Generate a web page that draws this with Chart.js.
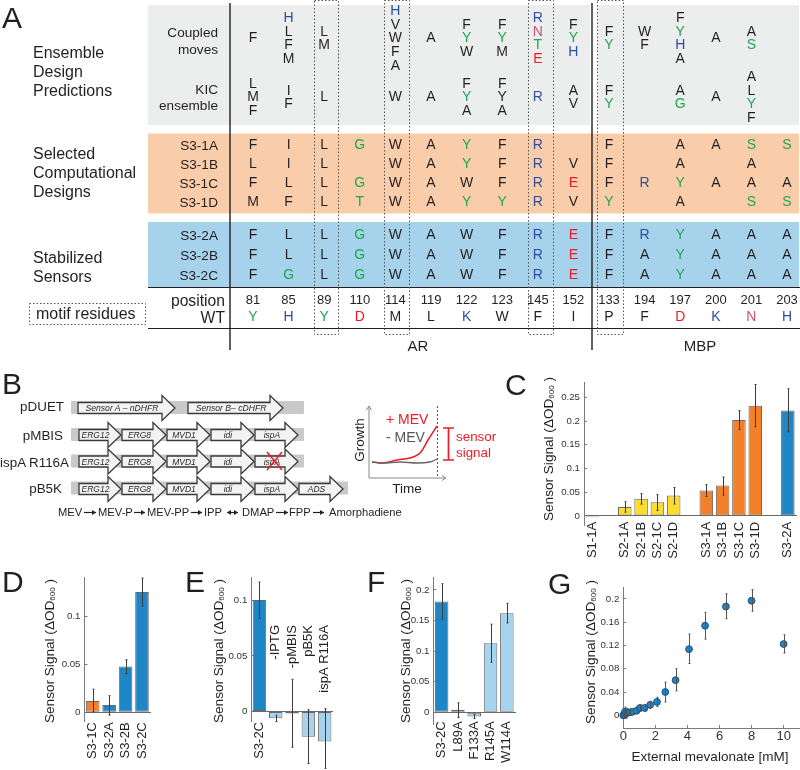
<!DOCTYPE html>
<html>
<head>
<meta charset="utf-8">
<title>Sensor design panels</title>
<script src="https://cdn.jsdelivr.net/npm/chart.js@4"></script>
<style>
  html, body { margin: 0; background: #fff; }
  body { position: relative; width: 800px; height: 770px; overflow: hidden; }
  canvas { position: absolute; }
  svg { position: absolute; left: 0; top: 0; z-index: 2; pointer-events: none; }
  svg text { font-family: 'Liberation Sans', Arial, sans-serif; fill: #231f20; dominant-baseline: central; }
  #growth { z-index: 3; }
</style>
</head>
<body>
<svg id="overlay" width="800" height="770"></svg>
<canvas id="panelA"></canvas>
<canvas id="growth"></canvas>
<canvas id="panelC"></canvas>
<canvas id="panelD"></canvas>
<canvas id="panelE"></canvas>
<canvas id="panelF"></canvas>
<canvas id="panelG"></canvas>
<script>
// panel A residues, one entry per column. '' = blank, lowercase y = drawn black
const positions = ['81', '85', '89', '110', '114', '119', '122', '123', '145', '152', '133', '194', '197', '200', '201', '203'];
const wildType = ['Y', 'H', 'Y', 'D', 'M', 'L', 'K', 'W', 'F', 'I', 'P', 'F', 'D', 'K', 'N', 'H'];
const coupledMoves = ['F', 'HLFM', 'LM', '', 'HVWFA', 'A', 'FYW', 'FYM', 'RNTE', 'FYH', 'FY', 'WF', 'FYHA', 'A', 'AS', ''];
const kicEnsemble = ['LMF', 'IF', 'L', '', 'W', 'A', 'FYA', 'FyA', 'R', 'AV', 'FY', '', 'AG', 'A', 'ALYF', ''];
const s31a = ['F', 'I', 'L', 'G', 'W', 'A', 'Y', 'F', 'R', '', 'F', '', 'A', 'A', 'S', 'S'];
const s31b = ['L', 'I', 'L', '', 'W', 'A', 'Y', 'F', 'R', 'V', 'F', '', 'A', '', 'A', ''];
const s31c = ['F', 'L', 'L', 'G', 'W', 'A', 'W', 'F', 'R', 'E', 'F', 'R', 'Y', 'A', 'A', 'A'];
const s31d = ['M', 'F', 'L', 'T', 'W', 'A', 'Y', 'Y', 'R', 'V', 'Y', '', 'A', '', 'S', 'S'];
const s32a = ['F', 'L', 'L', 'G', 'W', 'A', 'W', 'F', 'R', 'E', 'F', 'R', 'Y', 'A', 'A', 'A'];
const s32b = ['F', 'L', 'L', 'G', 'W', 'A', 'W', 'F', 'R', 'E', 'F', 'A', 'Y', 'A', 'A', 'A'];
const s32c = ['F', 'G', 'L', 'G', 'W', 'A', 'W', 'F', 'R', 'E', 'F', 'A', 'Y', 'A', 'A', 'A'];

// panel B growth sketch
const plusTime = [3, 14, 28, 41, 51, 59, 68];
const plusGrowth = [16, 15, 18, 20, 25, 38, 52];
const minusTime = [3, 14, 31, 48, 61, 68];
const minusGrowth = [16, 15, 16, 15, 16, 19];

// panel C
const cLabels = ['S1-1A', '', 'S2-1A', 'S2-1B', 'S2-1C', 'S2-1D', '', 'S3-1A', 'S3-1B', 'S3-1C', 'S3-1D', '', 'S3-2A'];
const cValues = [-0.003, null, 0.019, 0.036, 0.029, 0.043, null, 0.0535, 0.064, 0.202, 0.232, null, 0.222];
const cHigh = [null, null, 0.0298, 0.047, 0.045, 0.06, null, 0.066, 0.082, 0.222, 0.277, null, 0.268];
const cLow = [null, null, 0.008, 0.025, 0.0115, 0.025, null, 0.041, 0.044, 0.182, 0.188, null, 0.177];
const cTicks = [0, 0.05, 0.1, 0.15, 0.2, 0.25];

// panel D
const dLabels = ['S3-1C', 'S3-2A', 'S3-2B', 'S3-2C'];
const dValues = [0.0119, 0.0075, 0.048, 0.126];
const dHigh = [0.0241, 0.0173, 0.055, 0.1405];
const dLow = [0.0003, -0.003, 0.0405, 0.111];
const dTicks = [0, 0.05, 0.1];

// panel E
const eLabels = ['S3-2C', '-IPTG', '-pMBIS', 'pB5K', 'ispA R116A'];
const eValues = [0.1003, -0.006, -0.0017, -0.0226, -0.027];
const eHigh = [0.1165, -0.0032, 0.029, 0.0017, 0.0026];
const eLow = [0.084, -0.009, -0.032, -0.0467, -0.051];
const eTicks = [0, 0.05, 0.1];

// panel F
const fLabels = ['S3-2C', 'L89A', 'F133A', 'R145A', 'W114A'];
const fValues = [0.181, 0.0042, -0.0069, 0.113, 0.162];
const fHigh = [0.21, 0.0154, -0.003, 0.144, 0.178];
const fLow = [0.152, -0.0085, -0.01, 0.0817, 0.146];
const fTicks = [0, 0.05, 0.1, 0.15, 0.2];

// panel G
const gDose = [0, 0.04, 0.1, 0.15, 0.25, 0.42, 0.58, 0.83, 1.04, 1.33, 1.68, 2.1, 2.62, 3.26, 4.1, 5.1, 6.4, 8, 10];
const gSignal = [0, 0, 0.006, 0.002, 0.0055, 0.005, 0.006, 0.0077, 0.0126, 0.0126, 0.018, 0.023, 0.04, 0.0604, 0.1137, 0.154, 0.187, 0.197, 0.1225];
const gHigh = [0.002, 0.002, 0.014, 0.01, 0.009, 0.008, 0.0105, 0.012, 0.0176, 0.0187, 0.024, 0.031, 0.057, 0.08, 0.1396, 0.177, 0.209, 0.216, 0.1385];
const gLow = [-0.002, -0.002, -0.003, -0.005, 0.002, 0.002, 0.0016, 0.0038, 0.0066, 0.0066, 0.0115, 0.015, 0.023, 0.042, 0.089, 0.131, 0.166, 0.179, 0.107];
const gXTicks = [0, 2, 4, 6, 8, 10];
const gYTicks = [0, 0.04, 0.08, 0.12, 0.16, 0.2];

const GREEN = '#1fa650';
const BLUE = '#2f4da0';
const RED = '#ed1c24';
const PINK = '#c9527f';
const INK = '#231f20';
const BAR_BLUE = '#1f86c6';
const BAR_LIGHT = '#a6d3ee';
const BAR_ORANGE = '#f4812a';
const BAR_YELLOW = '#fcdc2c';
const letterColors = { Y: GREEN, G: GREEN, T: GREEN, S: GREEN, H: BLUE, R: BLUE, K: BLUE, D: RED, E: RED, N: PINK };

Chart.defaults.font.family = "'Liberation Sans', Arial, sans-serif";
Chart.defaults.animation = false;
Chart.defaults.plugins.legend.display = false;
Chart.defaults.plugins.tooltip.enabled = false;

// ---- static text and panel B diagram, in one svg ----
const svg = document.getElementById('overlay');
let svgMarkup = '';

function text(str, x, y, size, opts = {}) {
  const anchor = opts.anchor || 'start';
  const fill = opts.fill ? `style="fill:${opts.fill}"` : '';
  const rot = opts.rot ? `transform="rotate(-90 ${x} ${y})"` : '';
  const italic = opts.italic ? 'font-style="italic"' : '';
  svgMarkup += `<text x="${x}" y="${y}" font-size="${size}" text-anchor="${anchor}" ${fill} ${rot} ${italic}>${str}</text>`;
}

function signalTitle(x, y) {
  const label = 'Sensor Signal (ΔOD<tspan dy="3" font-size="8">600</tspan><tspan dy="-3"> )</tspan>';
  text(label, x, y, 13.6, { anchor: 'middle', rot: true });
}

[['A', 2, 17], ['B', 2, 383], ['C', 505, 384], ['D', 2, 581], ['E', 185, 581], ['F', 367, 581], ['G', 548, 583]]
  .forEach(([t, x, y]) => text(t, x, y, 30));

[['Ensemble', 52], ['Design', 71], ['Predictions', 90], ['Selected', 153], ['Computational', 172], ['Designs', 191], ['Stabilized', 257], ['Sensors', 276]]
  .forEach(([t, y]) => text(t, 33, y, 16));
text('motif residues', 36, 313, 16);
[['Coupled', 32], ['moves', 49], ['KIC', 89], ['ensemble', 105], ['S3-1A', 145], ['S3-1B', 164], ['S3-1C', 183], ['S3-1D', 202], ['S3-2A', 235], ['S3-2B', 255], ['S3-2C', 275]]
  .forEach(([t, y]) => text(t, 218, y, 13.6, { anchor: 'end' }));
text('position', 225, 300, 15.7, { anchor: 'end' });
text('WT', 225, 317, 15.7, { anchor: 'end' });
text('AR', 418, 345, 15, { anchor: 'middle' });
text('MBP', 700, 345, 15, { anchor: 'middle' });

signalTitle(548, 449);
signalTitle(49, 651);
signalTitle(218, 651);
signalTitle(405, 651);
signalTitle(590, 652);
text('External mevalonate [mM]', 710, 756, 13.5, { anchor: 'middle' });

function geneArrow(x1, x2, cy, label, size, head = 13, bodyH = 11, headH = 25) {
  const hx = x2 - head;
  const pts = [[x1, cy - bodyH / 2], [hx, cy - bodyH / 2], [hx, cy - headH / 2], [x2, cy], [hx, cy + headH / 2], [hx, cy + bodyH / 2], [x1, cy + bodyH / 2]];
  svgMarkup += `<polygon points="${pts.map((p) => p.join(',')).join(' ')}" fill="#f3f3f3" stroke="#3a3a3a" stroke-width="1.3"/>`;
  text(label, (x1 + hx) / 2 + 2, cy, size, { anchor: 'middle', italic: true });
}

function plasmidBar(x1, x2, cy) {
  svgMarkup += `<rect x="${x1}" y="${cy - 6.5}" width="${x2 - x1}" height="13" rx="1" fill="#c9c9c9"/>`;
}

function smallArrow(x1, x2, y, both) {
  svgMarkup += `<line x1="${x1}" x2="${x2}" y1="${y}" y2="${y}" stroke="#222" stroke-width="1.2"/>`;
  svgMarkup += `<polygon points="${x2},${y} ${x2 - 4},${y - 2.5} ${x2 - 4},${y + 2.5}" fill="#222"/>`;
  if (both) {
    svgMarkup += `<polygon points="${x1},${y} ${x1 + 4},${y - 2.5} ${x1 + 4},${y + 2.5}" fill="#222"/>`;
  }
}

plasmidBar(71, 304, 407.5);
plasmidBar(71, 304, 434.5);
plasmidBar(71, 304, 461);
plasmidBar(71, 348, 488);
geneArrow(78, 175, 408, 'Sensor A – nDHFR', 8.6);
geneArrow(188, 283, 408, 'Sensor B– cDHFR', 8.6);

[435, 461.5, 489].forEach((cy) => {
  geneArrow(79, 121, cy, 'ERG12', 8.5);
  geneArrow(122, 166, cy, 'ERG8', 8.5);
  geneArrow(167, 210, cy, 'MVD1', 8.5);
  geneArrow(211, 254, cy, 'idi', 8.5);
  geneArrow(255, 298, cy, 'ispA', 8.5);
});
geneArrow(299, 343, 489, 'ADS', 8.5);
svgMarkup += `<path d="M267 452 L282 470 M282 452 L267 470" stroke="${RED}" stroke-width="1.5" fill="none"/>`;

[['pDUET', 64, 406], ['pMBIS', 63, 435], ['ispA R116A', 69, 462], ['pB5K', 62, 488]]
  .forEach(([t, x, y]) => text(t, x, y, 13.4, { anchor: 'end' }));

[['MEV', 58], ['MEV-P', 98], ['MEV-PP', 147], ['IPP', 204], ['DMAP', 242], ['FPP', 289], ['Amorphadiene', 329]]
  .forEach(([t, x]) => text(t, x, 512, 11.2));
smallArrow(84, 96, 512.5);
smallArrow(134, 145, 512.5);
smallArrow(191, 202, 512.5);
smallArrow(227, 238, 512.5, true);
smallArrow(276, 288, 512.5);
smallArrow(313, 324, 512.5);

// growth sketch axes
svgMarkup += '<path d="M369 478 L369 406 M366.5 410 L369 406 L371.5 410 M369 478 L446 478 M442 475.5 L446 478 L442 480.5" stroke="#888" stroke-width="1" fill="none"/>';
svgMarkup += '<line x1="437.5" x2="437.5" y1="406" y2="478" stroke="#555" stroke-width="1" stroke-dasharray="2 2"/>';
svgMarkup += `<path d="M443 428 L454 428 M448.5 428 L448.5 460 M443 460 L454 460" stroke="${RED}" stroke-width="1.7" fill="none"/>`;
text('Growth', 359, 440, 13.5, { anchor: 'middle', rot: true });
text('Time', 407, 488, 13.5, { anchor: 'middle' });
text('+ MEV', 386, 419, 14, { fill: RED });
text('-  MEV', 386, 437, 14, { fill: '#555' });
text('sensor', 456, 436, 13.4, { fill: RED });
text('signal', 456, 452, 13.4, { fill: RED });
svg.innerHTML = svgMarkup;

// ---- helpers for the charts ----
function place(id, box) {
  const c = document.getElementById(id);
  c.width = box[2];
  c.height = box[3];
  c.style.left = box[0] + 'px';
  c.style.top = box[1] + 'px';
  return c;
}

const errorBars = {
  id: 'errorBars',
  afterDatasetsDraw(chart) {
    const { ctx, scales: { y } } = chart;
    chart.data.datasets.forEach((ds, i) => {
      if (!ds.errHigh) return;
      const meta = chart.getDatasetMeta(i);
      ctx.save();
      ctx.strokeStyle = ds.errColor || '#3c3c3c';
      ctx.lineWidth = 1;
      meta.data.forEach((el, k) => {
        if (ds.errHigh[k] == null) return;
        const y1 = y.getPixelForValue(ds.errHigh[k]);
        const y2 = y.getPixelForValue(ds.errLow[k]);
        const x = Math.round(el.x) + 0.5;
        ctx.beginPath();
        ctx.moveTo(x, y1);
        ctx.lineTo(x, y2);
        ctx.moveTo(x - 1, y1);
        ctx.lineTo(x + 1, y1);
        ctx.moveTo(x - 1, y2);
        ctx.lineTo(x + 1, y2);
        ctx.stroke();
      });
      ctx.restore();
    });
  },
};

function yScale(min, max, ticks, gutter) {
  return {
    min,
    max,
    afterFit(s) { s.width = gutter; },
    afterBuildTicks(s) { s.ticks = ticks.map((value) => ({ value })); },
    border: { display: true, color: '#7a7a7a', width: 1 },
    grid: { drawOnChartArea: false, tickLength: -3, tickColor: '#6f7dbb' },
    ticks: { callback: (v) => String(v), font: { size: 9.7 }, color: '#333', padding: 7, autoSkip: false },
  };
}

// box and area are page pixels: box = canvas rect, area = left, top, right, bottom of the plot
function barChart(id, box, area, labels, values, high, low, colors, ticks, yMin, yMax, labelGap, extra) {
  const gutter = 34;
  new Chart(place(id, box), {
    type: 'bar',
    data: {
      labels,
      datasets: [{
        data: values,
        backgroundColor: colors,
        borderColor: '#6a6a6a',
        borderWidth: 1,
        borderSkipped: false,
        barPercentage: 0.83,
        categoryPercentage: 1,
        clip: false,
        errHigh: high,
        errLow: low,
      }],
    },
    options: {
      responsive: false,
      layout: {
        autoPadding: false,
        padding: { left: area[0] - box[0] - gutter, top: area[1] - box[1], right: box[0] + box[2] - area[2], bottom: box[1] + box[3] - area[3] },
      },
      scales: {
        x: {
          position: { y: 0 },
          offset: true,
          // rotated labels must not eat into the plot area
          afterFit(s) { s.height = 0; s.paddingLeft = 0; s.paddingRight = 0; },
          border: { display: true, color: '#6a6a6a', width: 1 },
          grid: { display: false, drawTicks: false },
          ticks: { display: !extra, maxRotation: 90, minRotation: 90, autoSkip: false, font: { size: 13 }, color: INK, padding: labelGap },
        },
        y: yScale(yMin, yMax, ticks, gutter),
      },
    },
    plugins: extra ? [errorBars, extra] : [errorBars],
  });
}

// ---- panel A ----
const columnCount = positions.length;
const STACK_STEP = 13.7;
const rowY = { coupled: 38.5, kic: 97.5, s31a: 145.3, s31b: 164.3, s31c: 183, s31d: 202, s32a: 235, s32b: 255, s32c: 275, pos: 300.7, wt: 317 };

function residuePoints(row, y) {
  const pts = [];
  row.forEach((cell, col) => {
    const letters = cell.split('');
    letters.forEach((t, k) => {
      pts.push({ x: col, y: y + (k - (letters.length - 1) / 2) * STACK_STEP, t });
    });
  });
  return pts;
}

const residueData = [
  ...residuePoints(coupledMoves, rowY.coupled),
  ...residuePoints(kicEnsemble, rowY.kic),
  ...residuePoints(s31a, rowY.s31a),
  ...residuePoints(s31b, rowY.s31b),
  ...residuePoints(s31c, rowY.s31c),
  ...residuePoints(s31d, rowY.s31d),
  ...residuePoints(s32a, rowY.s32a),
  ...residuePoints(s32b, rowY.s32b),
  ...residuePoints(s32c, rowY.s32c),
  ...residuePoints(wildType, rowY.wt),
  ...positions.map((t, col) => ({ x: col, y: rowY.pos, t, number: true })),
];

const tableDecor = {
  id: 'tableDecor',
  beforeDatasetsDraw(chart) {
    const { ctx } = chart;
    ctx.save();
    ctx.fillStyle = '#eceeee';
    ctx.fillRect(148, 5, 442, 120);
    ctx.fillRect(598, 5, 201, 120);
    ctx.fillStyle = '#f9cdaa';
    ctx.fillRect(148, 133.5, 651, 80);
    ctx.fillStyle = '#a6d2ec';
    ctx.fillRect(148, 222, 651, 65);
    ctx.strokeStyle = '#231f20';
    ctx.lineWidth = 1;
    ctx.beginPath();
    ctx.moveTo(148, 287.5);
    ctx.lineTo(800, 287.5);
    ctx.moveTo(148, 328.5);
    ctx.lineTo(800, 328.5);
    ctx.stroke();
    ctx.lineWidth = 1.4;
    ctx.beginPath();
    ctx.moveTo(230, 3);
    ctx.lineTo(230, 350);
    ctx.moveTo(592, 3);
    ctx.lineTo(592, 350);
    ctx.stroke();
    ctx.strokeStyle = '#555';
    ctx.lineWidth = 1;
    ctx.setLineDash([1.5, 2]);
    [[314, 338], [384, 409], [528, 553], [597, 623]].forEach(([a, b]) => ctx.strokeRect(a + 0.5, 0.5, b - a, 334));
    ctx.strokeRect(29.5, 303.5, 116, 21);
    ctx.restore();
  },
  afterDatasetsDraw(chart) {
    const { ctx } = chart;
    const meta = chart.getDatasetMeta(0);
    ctx.save();
    ctx.textAlign = 'center';
    ctx.textBaseline = 'middle';
    residueData.forEach((d, i) => {
      ctx.font = (d.number ? '13' : '14') + "px 'Liberation Sans'";
      ctx.fillStyle = d.number ? INK : (letterColors[d.t] || INK);
      ctx.fillText(d.t.toUpperCase(), meta.data[i].x, meta.data[i].y);
    });
    ctx.restore();
  },
};

new Chart(place('panelA', [0, 0, 800, 350]), {
  type: 'scatter',
  data: { datasets: [{ data: residueData, pointRadius: 0 }] },
  options: {
    responsive: false,
    layout: { autoPadding: false, padding: { left: 253, right: 13, top: 0, bottom: 0 } },
    scales: {
      x: { display: false, min: 0, max: columnCount - 1 },
      y: { display: false, min: 0, max: 350, reverse: true },
    },
  },
  plugins: [tableDecor],
});

// ---- panel B growth sketch ----
new Chart(place('growth', [369, 406, 77, 72]), {
  type: 'scatter',
  data: {
    datasets: [
      { data: minusTime.map((x, i) => ({ x, y: minusGrowth[i] })), showLine: true, borderColor: '#666', borderWidth: 1.3, pointRadius: 0, tension: 0.4 },
      { data: plusTime.map((x, i) => ({ x, y: plusGrowth[i] })), showLine: true, borderColor: RED, borderWidth: 1.5, pointRadius: 0, tension: 0.4 },
    ],
  },
  options: {
    responsive: false,
    layout: { autoPadding: false, padding: 0 },
    scales: { x: { display: false, min: 0, max: 77 }, y: { display: false, min: 0, max: 72 } },
  },
});

// ---- panel C ----
const cColors = ['#4b4f9e', BAR_YELLOW, BAR_YELLOW, BAR_YELLOW, BAR_YELLOW, BAR_YELLOW, BAR_YELLOW, BAR_ORANGE, BAR_ORANGE, BAR_ORANGE, BAR_ORANGE, BAR_ORANGE, BAR_BLUE];
barChart('panelC', [545, 370, 255, 195], [584, 377.7, 796, 525], cLabels, cValues, cHigh, cLow, cColors, cTicks, -0.0191, 0.2805, 6);

// ---- panel D ----
barChart('panelD', [45, 565, 115, 205], [84.5, 574, 150.2, 721.7], dLabels, dValues, dHigh, dLow, [BAR_ORANGE, BAR_BLUE, BAR_BLUE, BAR_BLUE], dTicks, -0.0099, 0.1408, 10);

// ---- panel E: the knockout names sit above the zero line ----
const eNames = {
  id: 'eNames',
  afterDatasetsDraw(chart) {
    const { ctx, scales: { x } } = chart;
    ctx.save();
    ctx.font = "13px 'Liberation Sans'";
    ctx.fillStyle = INK;
    ctx.textAlign = 'right';
    ctx.textBaseline = 'middle';
    const canvasTop = chart.canvas.offsetTop;
    eLabels.forEach((name, i) => {
      const top = (i === 0 ? 722 : 625) - canvasTop;
      ctx.save();
      ctx.translate(x.getPixelForTick(i), top);
      ctx.rotate(-Math.PI / 2);
      ctx.fillText(name, 0, 0);
      ctx.restore();
    });
    ctx.restore();
  },
};
barChart('panelE', [210, 565, 135, 205], [251.3, 573, 332.8, 721.7], eLabels, eValues, eHigh, eLow, [BAR_BLUE, BAR_LIGHT, BAR_LIGHT, BAR_LIGHT, BAR_LIGHT], eTicks, -0.0091, 0.1203, 0, eNames);

// ---- panel F ----
barChart('panelF', [395, 565, 125, 205], [433.5, 574, 515, 724], fLabels, fValues, fHigh, fLow, [BAR_BLUE, BAR_LIGHT, BAR_LIGHT, BAR_LIGHT, BAR_LIGHT], fTicks, -0.0191, 0.2197, 9);

// ---- panel G ----
new Chart(place('panelG', [585, 575, 215, 175]), {
  type: 'scatter',
  data: {
    datasets: [{
      data: gDose.map((x, i) => ({ x, y: gSignal[i] })),
      backgroundColor: BAR_BLUE,
      borderColor: '#1d4f7c',
      borderWidth: 1,
      pointRadius: 3.4,
      clip: false,
      errHigh: gHigh,
      errLow: gLow,
      errColor: '#555',
    }],
  },
  options: {
    responsive: false,
    layout: { autoPadding: false, padding: { left: 623.3 - 585 - 34, top: 581.7 - 575, right: 0, bottom: 0 } },
    scales: {
      x: {
        min: 0,
        max: 11.02,
        afterFit(s) { s.height = 750 - 728; s.paddingLeft = 0; s.paddingRight = 0; },
        afterBuildTicks(s) { s.ticks = gXTicks.map((value) => ({ value })); },
        border: { display: true, color: '#7a7a7a', width: 1 },
        grid: { drawOnChartArea: false, tickLength: -3, tickColor: '#6f7dbb' },
        ticks: { callback: (v) => String(v), font: { size: 13 }, color: '#333', padding: 4, maxRotation: 0 },
      },
      y: yScale(-0.0219, 0.2192, gYTicks, 34),
    },
  },
  plugins: [errorBars],
});
</script>
</body>
</html>
